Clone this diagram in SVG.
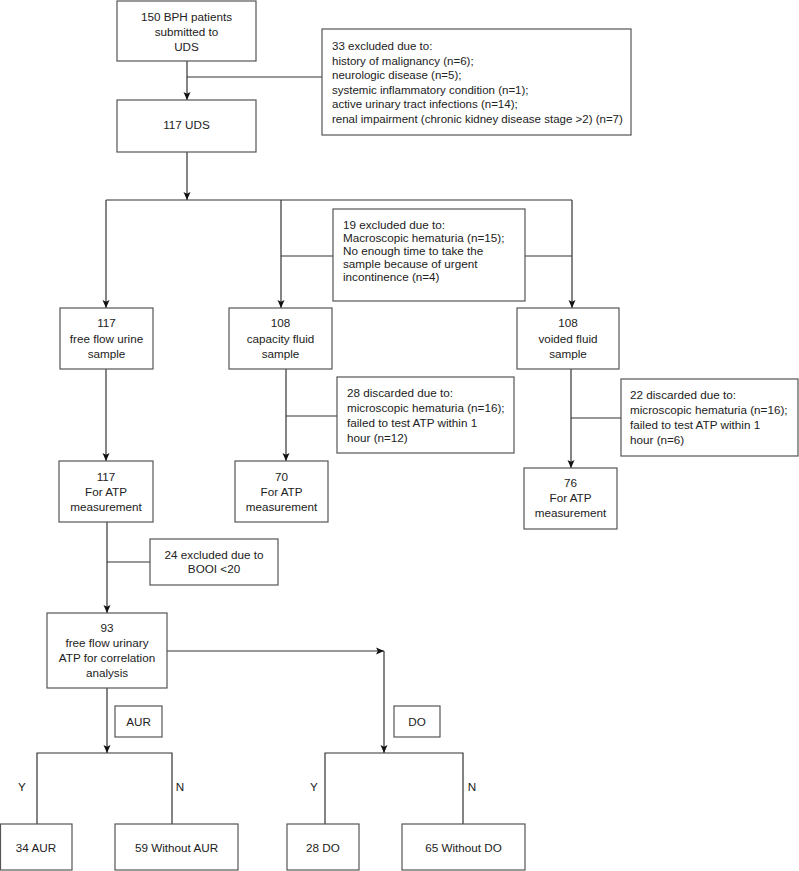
<svg xmlns="http://www.w3.org/2000/svg" width="799" height="871" viewBox="0 0 799 871">
<defs>
<marker id="ah" markerUnits="userSpaceOnUse" markerWidth="9" markerHeight="8" refX="8" refY="4" orient="auto">
<path d="M0,0.5 L8,4 L0,7.5 L1.8,4 Z" fill="#111"/>
</marker>
<style>
.box{fill:#fff;stroke:#555;stroke-width:1.2}
.ln{fill:none;stroke:#333;stroke-width:1.2}
.ar{fill:none;stroke:#333;stroke-width:1.2;marker-end:url(#ah)}
text{font-family:"Liberation Sans",Arial,sans-serif;font-size:11.7px;fill:#222}
.s{font-size:11.5px}
.c{text-anchor:middle}
</style>
</defs>
<rect width="799" height="871" fill="#fff"/>

<g id="connectors">
<path class="ar" d="M187,61 V100"/>
<path class="ln" d="M187,77 H322"/>
<path class="ar" d="M187,152 V200"/>
<path class="ln" d="M106,200 H572"/>
<path class="ar" d="M106,200 V308"/>
<path class="ar" d="M281,200 V308"/>
<path class="ar" d="M572,200 V308"/>
<path class="ln" d="M281,256 H333"/>
<path class="ln" d="M525,256 H572"/>
<path class="ar" d="M106,369 V461"/>
<path class="ar" d="M286,369 V461"/>
<path class="ln" d="M286,416 H337"/>
<path class="ar" d="M571,369 V468"/>
<path class="ln" d="M571,418 H621"/>
<path class="ar" d="M107,522 V613"/>
<path class="ln" d="M107,562 H150"/>
<path class="ar" d="M167,651 H384"/>
<path class="ar" d="M384,651 V753"/>
<path class="ar" d="M107,688 V753"/>
<path class="ln" d="M37,824 V753 H172 V824"/>
<path class="ln" d="M325,824 V753 H463 V824"/>
</g>

<g id="n_start">
<rect class="box" x="117" y="1" width="139" height="60"/>
<text class="c" x="186.5" y="21">150 BPH patients</text>
<text class="c" x="186.5" y="36">submitted to</text>
<text class="c" x="186.5" y="51">UDS</text>
</g>
<g id="n_excl33" class="s">
<rect class="box" x="322" y="29" width="309" height="106"/>
<text class="s" x="332" y="50">33 excluded due to:</text>
<text class="s" x="332" y="64.5">history of malignancy (n=6);</text>
<text class="s" x="332" y="79">neurologic disease (n=5);</text>
<text class="s" x="332" y="93.5">systemic inflammatory condition (n=1);</text>
<text class="s" x="332" y="108">active urinary tract infections (n=14);</text>
<text class="s" x="332" y="122.5">renal impairment (chronic kidney disease stage &gt;2) (n=7)</text>
</g>
<g id="n_uds">
<rect class="box" x="117" y="100" width="139" height="52"/>
<text class="c" x="186.5" y="129">117 UDS</text>
</g>
<g id="n_excl19">
<rect class="box" x="333" y="209" width="192" height="92"/>
<text x="343" y="229">19 excluded due to:</text>
<text x="343" y="242">Macroscopic hematuria (n=15);</text>
<text x="343" y="255">No enough time to take the</text>
<text x="343" y="268">sample because of urgent</text>
<text x="343" y="281">incontinence (n=4)</text>
</g>
<g id="n_free">
<rect class="box" x="60" y="308" width="93" height="61"/>
<text class="c" x="106.5" y="327">117</text>
<text class="c" x="106.5" y="343">free flow urine</text>
<text class="c" x="106.5" y="358">sample</text>
</g>
<g id="n_cap">
<rect class="box" x="229" y="308" width="103" height="61"/>
<text class="c" x="280.5" y="327">108</text>
<text class="c" x="280.5" y="343">capacity fluid</text>
<text class="c" x="280.5" y="358">sample</text>
</g>
<g id="n_void">
<rect class="box" x="517" y="308" width="102" height="61"/>
<text class="c" x="568" y="327">108</text>
<text class="c" x="568" y="343">voided fluid</text>
<text class="c" x="568" y="358">sample</text>
</g>
<g id="n_disc28">
<rect class="box" x="337" y="377" width="177" height="76"/>
<text x="347" y="397">28 discarded due to:</text>
<text x="347" y="412">microscopic hematuria (n=16);</text>
<text x="347" y="427">failed to test ATP within 1</text>
<text x="347" y="442">hour (n=12)</text>
</g>
<g id="n_disc22">
<rect class="box" x="621" y="379" width="177" height="77"/>
<text x="630" y="399">22 discarded due to:</text>
<text x="630" y="414">microscopic hematuria (n=16);</text>
<text x="630" y="429">failed to test ATP within 1</text>
<text x="630" y="444">hour (n=6)</text>
</g>
<g id="n_atp117">
<rect class="box" x="59" y="461" width="94" height="61"/>
<text class="c" x="106" y="481">117</text>
<text class="c" x="106" y="496">For ATP</text>
<text class="c" x="106" y="511">measurement</text>
</g>
<g id="n_atp70">
<rect class="box" x="235" y="461" width="93" height="61"/>
<text class="c" x="281.5" y="481">70</text>
<text class="c" x="281.5" y="496">For ATP</text>
<text class="c" x="281.5" y="511">measurement</text>
</g>
<g id="n_atp76">
<rect class="box" x="524" y="468" width="93" height="61"/>
<text class="c" x="570.5" y="487">76</text>
<text class="c" x="570.5" y="502">For ATP</text>
<text class="c" x="570.5" y="517">measurement</text>
</g>
<g id="n_excl24">
<rect class="box" x="150" y="539" width="128" height="46"/>
<text class="c" x="214" y="559">24 excluded due to</text>
<text class="c" x="214" y="573">BOOI &lt;20</text>
</g>
<g id="n_93">
<rect class="box" x="47" y="613" width="120" height="75"/>
<text class="c" x="107" y="632">93</text>
<text class="c" x="107" y="647">free flow urinary</text>
<text class="c" x="107" y="662">ATP for correlation</text>
<text class="c" x="107" y="677">analysis</text>
</g>
<g id="n_aur_label">
<rect class="box" x="115" y="706" width="47" height="31"/>
<text class="c" x="138.5" y="726">AUR</text>
</g>
<g id="n_do_label">
<rect class="box" x="394" y="706" width="46" height="31"/>
<text class="c" x="417" y="726">DO</text>
</g>
<g id="yn_labels">
<text class="c" x="22" y="791">Y</text>
<text class="c" x="180" y="791">N</text>
<text class="c" x="314" y="791">Y</text>
<text class="c" x="472" y="791">N</text>
</g>
<g id="n_34aur">
<rect class="box" x="0.5" y="824" width="71.5" height="46"/>
<text class="c" x="36" y="852">34 AUR</text>
</g>
<g id="n_59">
<rect class="box" x="115" y="824" width="123" height="46"/>
<text class="c" x="176.5" y="852">59 Without AUR</text>
</g>
<g id="n_28do">
<rect class="box" x="287" y="824" width="72" height="46"/>
<text class="c" x="323" y="852">28 DO</text>
</g>
<g id="n_65">
<rect class="box" x="402" y="824" width="123" height="46"/>
<text class="c" x="463.5" y="852">65 Without DO</text>
</g>
</svg>
